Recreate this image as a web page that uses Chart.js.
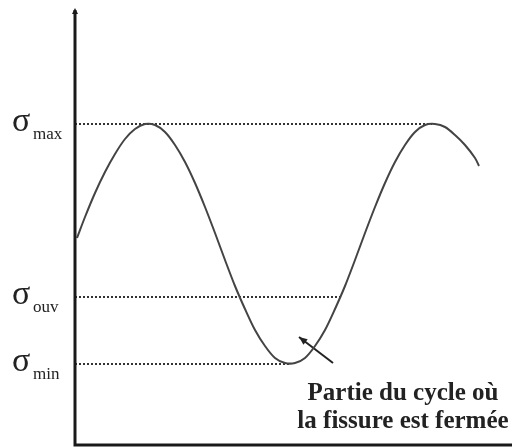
<!DOCTYPE html>
<html>
<head>
<meta charset="utf-8">
<script src="https://cdn.jsdelivr.net/npm/chart.js@4/dist/chart.umd.min.js"></script>
<style>
  html, body { margin: 0; padding: 0; background: #fff; }
  #wrap { width: 512px; height: 448px; }
</style>
</head>
<body>
<div id="wrap"><canvas id="cycle-chart" width="512" height="448"></canvas></div>
<script>
// time along the cycle and the stress
const timeValues = [0.02, 0.1, 0.2, 0.3, 0.4, 0.5, 0.6, 0.7, 0.8, 0.9, 1.0, 1.1, 1.2, 1.3, 1.4, 1.5, 1.6, 1.7, 1.8, 1.9, 2.0,
    2.1, 2.2, 2.3, 2.4, 2.5, 2.6, 2.7, 2.8, 2.9, 3.0, 3.1, 3.2, 3.3, 3.4, 3.5, 3.6, 3.7, 3.8, 3.9, 4.0, 4.04];
const stressValues = [2.07, 2.28, 2.52, 2.73, 2.91, 3.06, 3.16, 3.21, 3.20, 3.13, 3.00, 2.83, 2.62, 2.38, 2.12, 1.85, 1.59, 1.36, 1.15, 0.99, 0.87,
    0.82, 0.82, 0.87, 0.99, 1.15, 1.36, 1.59, 1.85, 2.12, 2.38, 2.62, 2.83, 3.00, 3.13, 3.20, 3.21, 3.18, 3.10, 3.00, 2.87, 2.79];

// stress levels (sigma max / ouv / min) and where each dotted line stops
const levelNames = ['max', 'ouv', 'min'];
const levelValues = [3.21, 1.48, 0.81];
const levelEnds = [3.57, 2.68, 2.15];

// arrow and note about the closed-crack part of the cycle
const arrowFrom = [2.58, 0.82];
const arrowTo = [2.24, 1.08];
const noteLines = ['Partie du cycle où', 'la fissure est fermée'];
const noteAt = [3.28, 0.54];

const levelSets = levelValues.map((v, i) => ({
    data: [{ x: 0, y: v }, { x: levelEnds[i], y: v }],
    borderColor: '#333',
    borderWidth: 2,
    borderDash: [2, 2],
    pointRadius: 0,
    tension: 0
}));

const decor = {
    id: 'decor',
    afterDraw(chart) {
        const { ctx, chartArea: a, scales: { x, y } } = chart;
        ctx.save();

        // axes
        ctx.strokeStyle = '#1a1a1a';
        ctx.lineWidth = 3;
        ctx.beginPath();
        ctx.moveTo(a.left, a.top);
        ctx.lineTo(a.left, a.bottom);
        ctx.lineTo(a.right, a.bottom);
        ctx.stroke();
        ctx.fillStyle = '#1a1a1a';
        ctx.beginPath();
        ctx.moveTo(a.left - 3, a.top + 4);
        ctx.lineTo(a.left, a.top - 2);
        ctx.lineTo(a.left + 3, a.top + 4);
        ctx.closePath();
        ctx.fill();

        // sigma labels
        ctx.fillStyle = '#222';
        ctx.textAlign = 'left';
        ctx.textBaseline = 'alphabetic';
        levelNames.forEach((name, i) => {
            const py = y.getPixelForValue(levelValues[i]);
            ctx.font = '34px "Liberation Serif"';
            ctx.fillText('σ', 12, py + 7);
            ctx.font = '17px "Liberation Serif"';
            ctx.fillText(name, 33, py + 15);
        });

        // arrow head
        const x0 = x.getPixelForValue(arrowFrom[0]), y0 = y.getPixelForValue(arrowFrom[1]);
        const x1 = x.getPixelForValue(arrowTo[0]), y1 = y.getPixelForValue(arrowTo[1]);
        const ang = Math.atan2(y1 - y0, x1 - x0);
        ctx.fillStyle = '#222';
        ctx.beginPath();
        ctx.moveTo(x1, y1);
        ctx.lineTo(x1 - 9 * Math.cos(ang - 0.4), y1 - 9 * Math.sin(ang - 0.4));
        ctx.lineTo(x1 - 9 * Math.cos(ang + 0.4), y1 - 9 * Math.sin(ang + 0.4));
        ctx.closePath();
        ctx.fill();

        // note
        ctx.font = 'bold 25px "Liberation Serif"';
        ctx.textAlign = 'center';
        const nx = x.getPixelForValue(noteAt[0]);
        const ny = y.getPixelForValue(noteAt[1]);
        noteLines.forEach((t, i) => ctx.fillText(t, nx, ny + 9 + i * 28));

        ctx.restore();
    }
};

const ctx = document.getElementById('cycle-chart').getContext('2d');
const cycleChart = new Chart(ctx, {
    type: 'line',
    data: {
        datasets: [
            {
                data: timeValues.map((t, i) => ({ x: t, y: stressValues[i] })),
                borderColor: '#444',
                borderWidth: 2,
                pointRadius: 0,
                tension: 0.3
            },
            ...levelSets,
            {
                data: [{ x: arrowFrom[0], y: arrowFrom[1] }, { x: arrowTo[0], y: arrowTo[1] }],
                borderColor: '#222',
                borderWidth: 2,
                pointRadius: 0,
                tension: 0
            }
        ]
    },
    options: {
        responsive: false,
        animation: false,
        layout: { padding: { left: 75, top: 10, right: 0, bottom: 3 } },
        plugins: { legend: { display: false }, tooltip: { enabled: false } },
        scales: {
            x: { type: 'linear', min: 0, max: 4.37, display: false },
            y: { type: 'linear', min: 0, max: 4.35, display: false }
        }
    },
    plugins: [decor]
});
</script>
</body>
</html>
